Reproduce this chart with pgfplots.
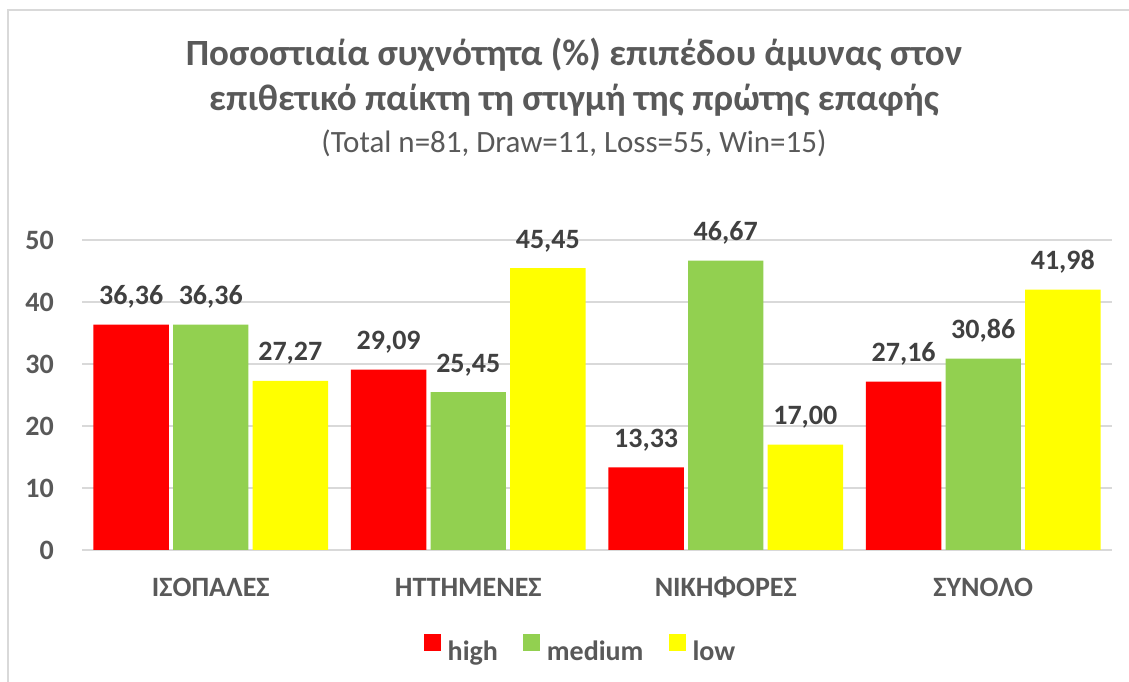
\documentclass[border=0pt]{standalone}
\usepackage{pgfplots}
\pgfplotsset{compat=1.18}
\usepackage{fontspec}
\setmainfont{Carlito}
\definecolor{cred}{HTML}{FF0000}
\definecolor{cgreen}{HTML}{92D050}
\definecolor{cyellow}{HTML}{FFFF00}
\definecolor{txt}{HTML}{595959}
\definecolor{lbl}{HTML}{404040}
\definecolor{gridc}{HTML}{D9D9D9}
\begin{document}
\begin{tikzpicture}[x=1pt,y=1pt]
\useasboundingbox (0,0) rectangle (1129,682);
\fill[white] (0,0) rectangle (1129,682);
\draw[gridc, line width=1.5pt] (8,0) -- (8,672) -- (1129,672);
\begin{axis}[
  at={(82pt,132pt)}, anchor=south west,
  scale only axis, width=1030pt, height=310pt,
  xmin=-0.5, xmax=3.5, ymin=0, ymax=50,
  ybar, bar width=0.293,
  legend image code/.code={\fill[#1] (0pt,0pt) rectangle (17pt,17pt);},
  axis line style={draw=none},
  tick style={draw=none}, major tick length=0pt,
  ytick={0,10,20,30,40,50},
  xtick={0,1,2,3},
  xticklabels={ΙΣΟΠΑΛΕΣ, ΗΤΤΗΜΕΝΕΣ, ΝΙΚΗΦΟΡΕΣ, ΣΥΝΟΛΟ},
  ymajorgrids, grid style={gridc, line width=1.2pt},
  /pgf/number format/assume math mode=true,
  ticklabel style={font=\fontsize{28}{34}\selectfont\bfseries, text=txt},
  yticklabel style={anchor=east, inner sep=0pt, xshift=-28pt},
  xticklabel style={anchor=base, inner sep=0pt, yshift=-47pt},
  nodes near coords={\pgfmathprintnumber[fixed,fixed zerofill,precision=2,use comma,assume math mode=true]{\pgfplotspointmeta}},
  every node near coord/.append style={font=\fontsize{28}{34}\selectfont\bfseries, text=lbl, anchor=base, inner sep=0pt, yshift=20pt},
  legend columns=3,
  legend style={at={(0.483,-0.316)}, anchor=center, draw=none, fill=none, inner sep=0pt,
    font=\fontsize{28}{34}\selectfont\bfseries, text=txt,
    nodes={inner sep=0pt},
    /tikz/every odd column/.append style={column sep=7pt},
    /tikz/every even column/.append style={column sep=25pt}},
]
\addplot[fill=cred, draw=none, bar shift=-0.309] coordinates {(0,36.36) (1,29.09) (2,13.33) (3,27.16)};
\addplot[fill=cgreen, draw=none, bar shift=0] coordinates {(0,36.36) (1,25.45) (2,46.67) (3,30.86)};
\addplot[fill=cyellow, draw=none, bar shift=0.309] coordinates {(0,27.27) (1,45.45) (2,17.00) (3,41.98)};
\legend{high, medium, low}
\end{axis}
\node[anchor=base, text=txt, font=\fontsize{37}{45}\selectfont\bfseries, inner sep=0pt] at (574,616) {Ποσοστιαία συχνότητα (\%) επιπέδου άμυνας στον};
\node[anchor=base, text=txt, font=\fontsize{37}{45}\selectfont\bfseries, inner sep=0pt] at (574,571) {επιθετικό παίκτη τη στιγμή της πρώτης επαφής};
\node[anchor=base, text=txt, font=\fontsize{31}{37}\selectfont, inner sep=0pt] at (574,529) {(Total n=81, Draw=11, Loss=55, Win=15)};
\end{tikzpicture}
\end{document}
